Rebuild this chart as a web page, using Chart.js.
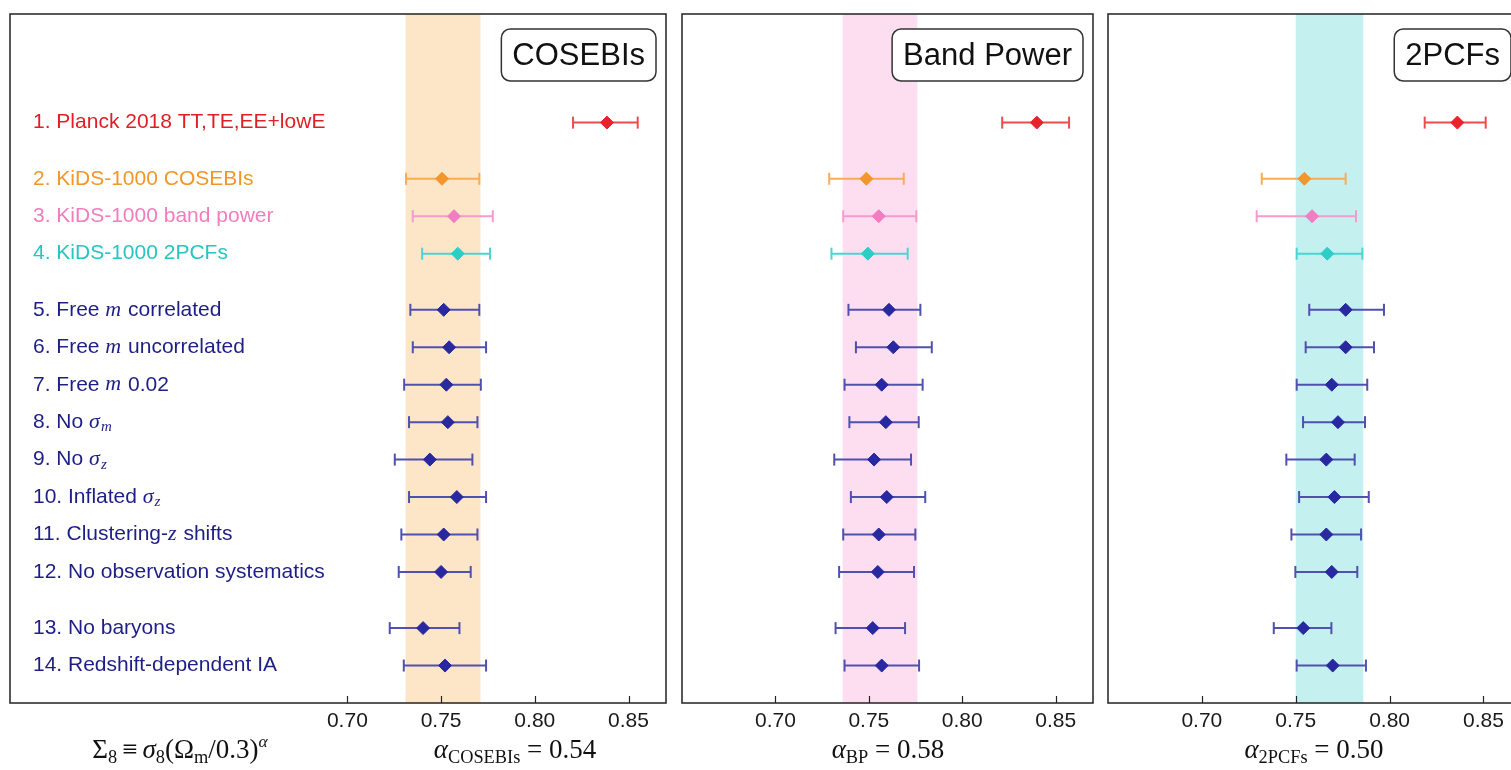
<!DOCTYPE html>
<html>
<head>
<meta charset="utf-8">
<script src="https://cdn.jsdelivr.net/npm/chart.js@4.4.1/dist/chart.umd.min.js"></script>
<style>
  html, body { margin: 0; padding: 0; background: #fff; overflow: hidden; }
  #wrap { position: relative; width: 1511px; height: 770px; overflow: hidden; }
  canvas { position: absolute; top: 0; }
  .math {
    position: absolute; top: 733px; transform: translateX(-50%);
    font-family: "Liberation Serif", "DejaVu Serif", serif; font-size: 27px;
    line-height: 32px; color: #111; white-space: nowrap;
  }
  .math sub { font-size: 68%; vertical-align: -0.25em; line-height: 0; }
  .math sup { font-size: 65%; vertical-align: 0.6em; line-height: 0; }
  .math .rel { margin: 0 5px; }
</style>
</head>
<body>
<div id="wrap">
  <canvas id="cosebis" width="676" height="770" style="left:0; width:676px; height:770px"></canvas>
  <canvas id="bandpower" width="431" height="770" style="left:672px; width:431px; height:770px"></canvas>
  <canvas id="pcfs" width="433" height="770" style="left:1098px; width:433px; height:770px"></canvas>
  <div class="math" style="left:180px">Σ<sub>8</sub><span class="rel">≡</span><i>σ</i><sub>8</sub>(Ω<sub>m</sub>/0.3)<sup><i>α</i></sup></div>
  <div class="math" style="left:515px"><i>α</i><sub>COSEBIs</sub> = 0.54</div>
  <div class="math" style="left:888px"><i>α</i><sub>BP</sub> = 0.58</div>
  <div class="math" style="left:1314px"><i>α</i><sub>2PCFs</sub> = 0.50</div>
</div>
<script>
// Row labels (math between $...$, _ = subscript)
const labels = [
  '1. Planck 2018 TT,TE,EE+lowE',
  '2. KiDS-1000 COSEBIs',
  '3. KiDS-1000 band power',
  '4. KiDS-1000 2PCFs',
  '5. Free $m$ correlated',
  '6. Free $m$ uncorrelated',
  '7. Free $m$ 0.02',
  '8. No $σ_m$',
  '9. No $σ_z$',
  '10. Inflated $σ_z$',
  '11. Clustering-$z$ shifts',
  '12. No observation systematics',
  '13. No baryons',
  '14. Redshift-dependent IA'
];
// vertical slot of each row (gaps between groups)
const rowY = [14.5, 13, 12, 11, 9.5, 8.5, 7.5, 6.5, 5.5, 4.5, 3.5, 2.5, 1, 0];

const tickValues = [0.70, 0.75, 0.80, 0.85];

// Sigma_8 constraints, COSEBIs panel
const cosebisMean = [0.8385, 0.7505, 0.7569, 0.7589, 0.7514, 0.7543, 0.7528, 0.7536, 0.744, 0.7584, 0.7514, 0.750, 0.7404, 0.7521];
const cosebisLo   = [0.8204, 0.7313, 0.7349, 0.7399, 0.7336, 0.7349, 0.7303, 0.7329, 0.7253, 0.7329, 0.7288, 0.7274, 0.7226, 0.7301];
const cosebisHi   = [0.8549, 0.7704, 0.7776, 0.7761, 0.7704, 0.774, 0.7712, 0.7694, 0.7667, 0.774, 0.7694, 0.7658, 0.7598, 0.774];
const cosebisBand = [0.731, 0.771];

// Band power panel
const bpMean = [0.8399, 0.7487, 0.7553, 0.7495, 0.7608, 0.7631, 0.7569, 0.7591, 0.7528, 0.7596, 0.7553, 0.7548, 0.7521, 0.7569];
const bpLo   = [0.8214, 0.7288, 0.7363, 0.730, 0.7391, 0.7431, 0.737, 0.7396, 0.7315, 0.7404, 0.7363, 0.7341, 0.7322, 0.737];
const bpHi   = [0.8572, 0.7687, 0.7754, 0.7708, 0.7776, 0.7837, 0.7788, 0.7767, 0.7726, 0.7802, 0.7749, 0.7742, 0.7694, 0.7769];
const bpBand = [0.736, 0.776];

// 2PCFs panel
const pcfMean = [0.8361, 0.7546, 0.7587, 0.7668, 0.7766, 0.7766, 0.7692, 0.7725, 0.7663, 0.7706, 0.7663, 0.7692, 0.754, 0.7697];
const pcfLo   = [0.8187, 0.7319, 0.7292, 0.7505, 0.7572, 0.7553, 0.7505, 0.7539, 0.745, 0.7518, 0.7477, 0.7498, 0.7383, 0.7505];
const pcfHi   = [0.8512, 0.7766, 0.7821, 0.7855, 0.797, 0.7917, 0.7881, 0.7869, 0.7814, 0.7889, 0.7848, 0.7828, 0.769, 0.7874];
const pcfBand = [0.750, 0.786];

// colours per row group
const textColors   = ['rgb(225,30,35)', 'rgb(242,150,40)', 'rgb(240,125,190)', 'rgb(40,195,195)', 'rgb(30,30,135)'];
const lineColors   = ['rgb(238,75,75)', 'rgb(247,172,85)', 'rgb(245,155,205)', 'rgb(75,212,210)', 'rgb(80,80,175)'];
const markerColors = ['rgb(232,35,45)', 'rgb(245,150,45)', 'rgb(242,125,192)', 'rgb(45,205,200)', 'rgb(40,40,160)'];
const grp = i => Math.min(i, 4);

const SANS = '"Liberation Sans", Arial, sans-serif';
const SERIF = '"Liberation Serif", "DejaVu Serif", serif';

function drawRich(ctx, str, x, y) {
  let cx = x;
  str.split('$').forEach((part, k) => {
    if (k % 2 === 0) {
      ctx.font = '21px ' + SANS;
      ctx.fillText(part, cx, y);
      cx += ctx.measureText(part).width;
    } else {
      for (let j = 0; j < part.length; j++) {
        if (part[j] === '_') {
          ctx.font = 'italic 15px ' + SERIF;
          ctx.fillText(part[j + 1], cx, y + 5);
          cx += ctx.measureText(part[j + 1]).width;
          j++;
        } else {
          ctx.font = 'italic 22px ' + SERIF;
          ctx.fillText(part[j], cx, y);
          cx += ctx.measureText(part[j]).width + 1;
        }
      }
    }
  });
}

const panelDeco = {
  id: 'panelDeco',
  beforeDatasetsDraw(chart, args, opts) {
    const { ctx, chartArea: a, scales: { x } } = chart;
    const x0 = x.getPixelForValue(opts.band[0]);
    const x1 = x.getPixelForValue(opts.band[1]);
    ctx.save();
    ctx.fillStyle = opts.bandColor;
    ctx.fillRect(x0, a.top, x1 - x0, a.bottom - a.top);
    ctx.restore();
  },
  afterDraw(chart, args, opts) {
    const { ctx, chartArea: a, scales: { x, y } } = chart;
    ctx.save();
    // frame
    ctx.strokeStyle = '#222';
    ctx.lineWidth = 1.5;
    ctx.strokeRect(a.left, a.top, a.right - a.left, a.bottom - a.top);
    // inward ticks
    ctx.lineWidth = 1.2;
    x.ticks.forEach(t => {
      const px = Math.round(x.getPixelForValue(t.value)) + 0.5;
      ctx.beginPath();
      ctx.moveTo(px, a.bottom);
      ctx.lineTo(px, a.bottom - 7);
      ctx.stroke();
    });
    // title box
    ctx.font = '31px ' + SANS;
    const tw = ctx.measureText(opts.title).width;
    const bw = tw + 22, bh = 52;
    const bx = a.right - 10 - bw, by = a.top + 15;
    ctx.beginPath();
    ctx.roundRect(bx, by, bw, bh, 9);
    ctx.fillStyle = '#fff';
    ctx.fill();
    ctx.strokeStyle = '#333';
    ctx.lineWidth = 1.5;
    ctx.stroke();
    ctx.fillStyle = '#111';
    ctx.textAlign = 'center';
    ctx.textBaseline = 'middle';
    ctx.fillText(opts.title, bx + bw / 2, by + bh / 2 + 1);
    // row labels (first panel only)
    if (opts.showLabels) {
      ctx.textAlign = 'left';
      ctx.textBaseline = 'middle';
      labels.forEach((lab, i) => {
        ctx.fillStyle = textColors[grp(i)];
        drawRich(ctx, lab, a.left + 23, y.getPixelForValue(rowY[i]));
      });
    }
    ctx.restore();
  }
};

function buildDatasets(mean, lo, hi) {
  const sets = [{
    data: rowY.map((y, i) => ({ x: mean[i], y })),
    showLine: false,
    pointStyle: 'rectRot',
    pointRadius: 6.5,
    pointBorderWidth: 1,
    pointBackgroundColor: rowY.map((_, i) => markerColors[grp(i)]),
    pointBorderColor: rowY.map((_, i) => markerColors[grp(i)])
  }];
  rowY.forEach((y, i) => {
    sets.push({
      data: [{ x: lo[i], y }, { x: hi[i], y }],
      showLine: true,
      borderColor: lineColors[grp(i)],
      borderWidth: 2,
      pointStyle: 'line',
      pointRotation: 90,
      pointRadius: 6,
      pointBorderWidth: 2,
      pointBorderColor: lineColors[grp(i)]
    });
  });
  return sets;
}

function makePanel(id, xmin, xmax, mean, lo, hi, band, bandColor, title, showLabels) {
  new Chart(document.getElementById(id), {
    type: 'scatter',
    data: { datasets: buildDatasets(mean, lo, hi) },
    options: {
      responsive: false,
      animation: false,
      events: [],
      layout: { padding: { left: 10, right: 10, top: 14, bottom: 27 } },
      plugins: {
        legend: { display: false },
        tooltip: { enabled: false },
        panelDeco: { band, bandColor, title, showLabels }
      },
      scales: {
        x: {
          type: 'linear', min: xmin, max: xmax, position: 'bottom',
          afterBuildTicks: s => { s.ticks = tickValues.map(v => ({ value: v })); },
          afterFit: s => { s.height = 40; },
          grid: { display: false, drawTicks: false },
          border: { display: false },
          ticks: {
            font: { family: SANS, size: 21 }, color: '#1a1a1a', padding: 6,
            maxRotation: 0, autoSkip: false,
            callback: v => v.toFixed(2)
          }
        },
        y: { type: 'linear', min: -1, max: 17.4, display: false }
      }
    },
    plugins: [panelDeco]
  });
}

makePanel('cosebis', 0.52, 0.87, cosebisMean, cosebisLo, cosebisHi, cosebisBand, 'rgb(253,229,200)', 'COSEBIs', true);
makePanel('bandpower', 0.65, 0.87, bpMean, bpLo, bpHi, bpBand, 'rgb(253,222,240)', 'Band Power', false);
makePanel('pcfs', 0.65, 0.87, pcfMean, pcfLo, pcfHi, pcfBand, 'rgb(196,240,239)', '2PCFs', false);
</script>
</body>
</html>
